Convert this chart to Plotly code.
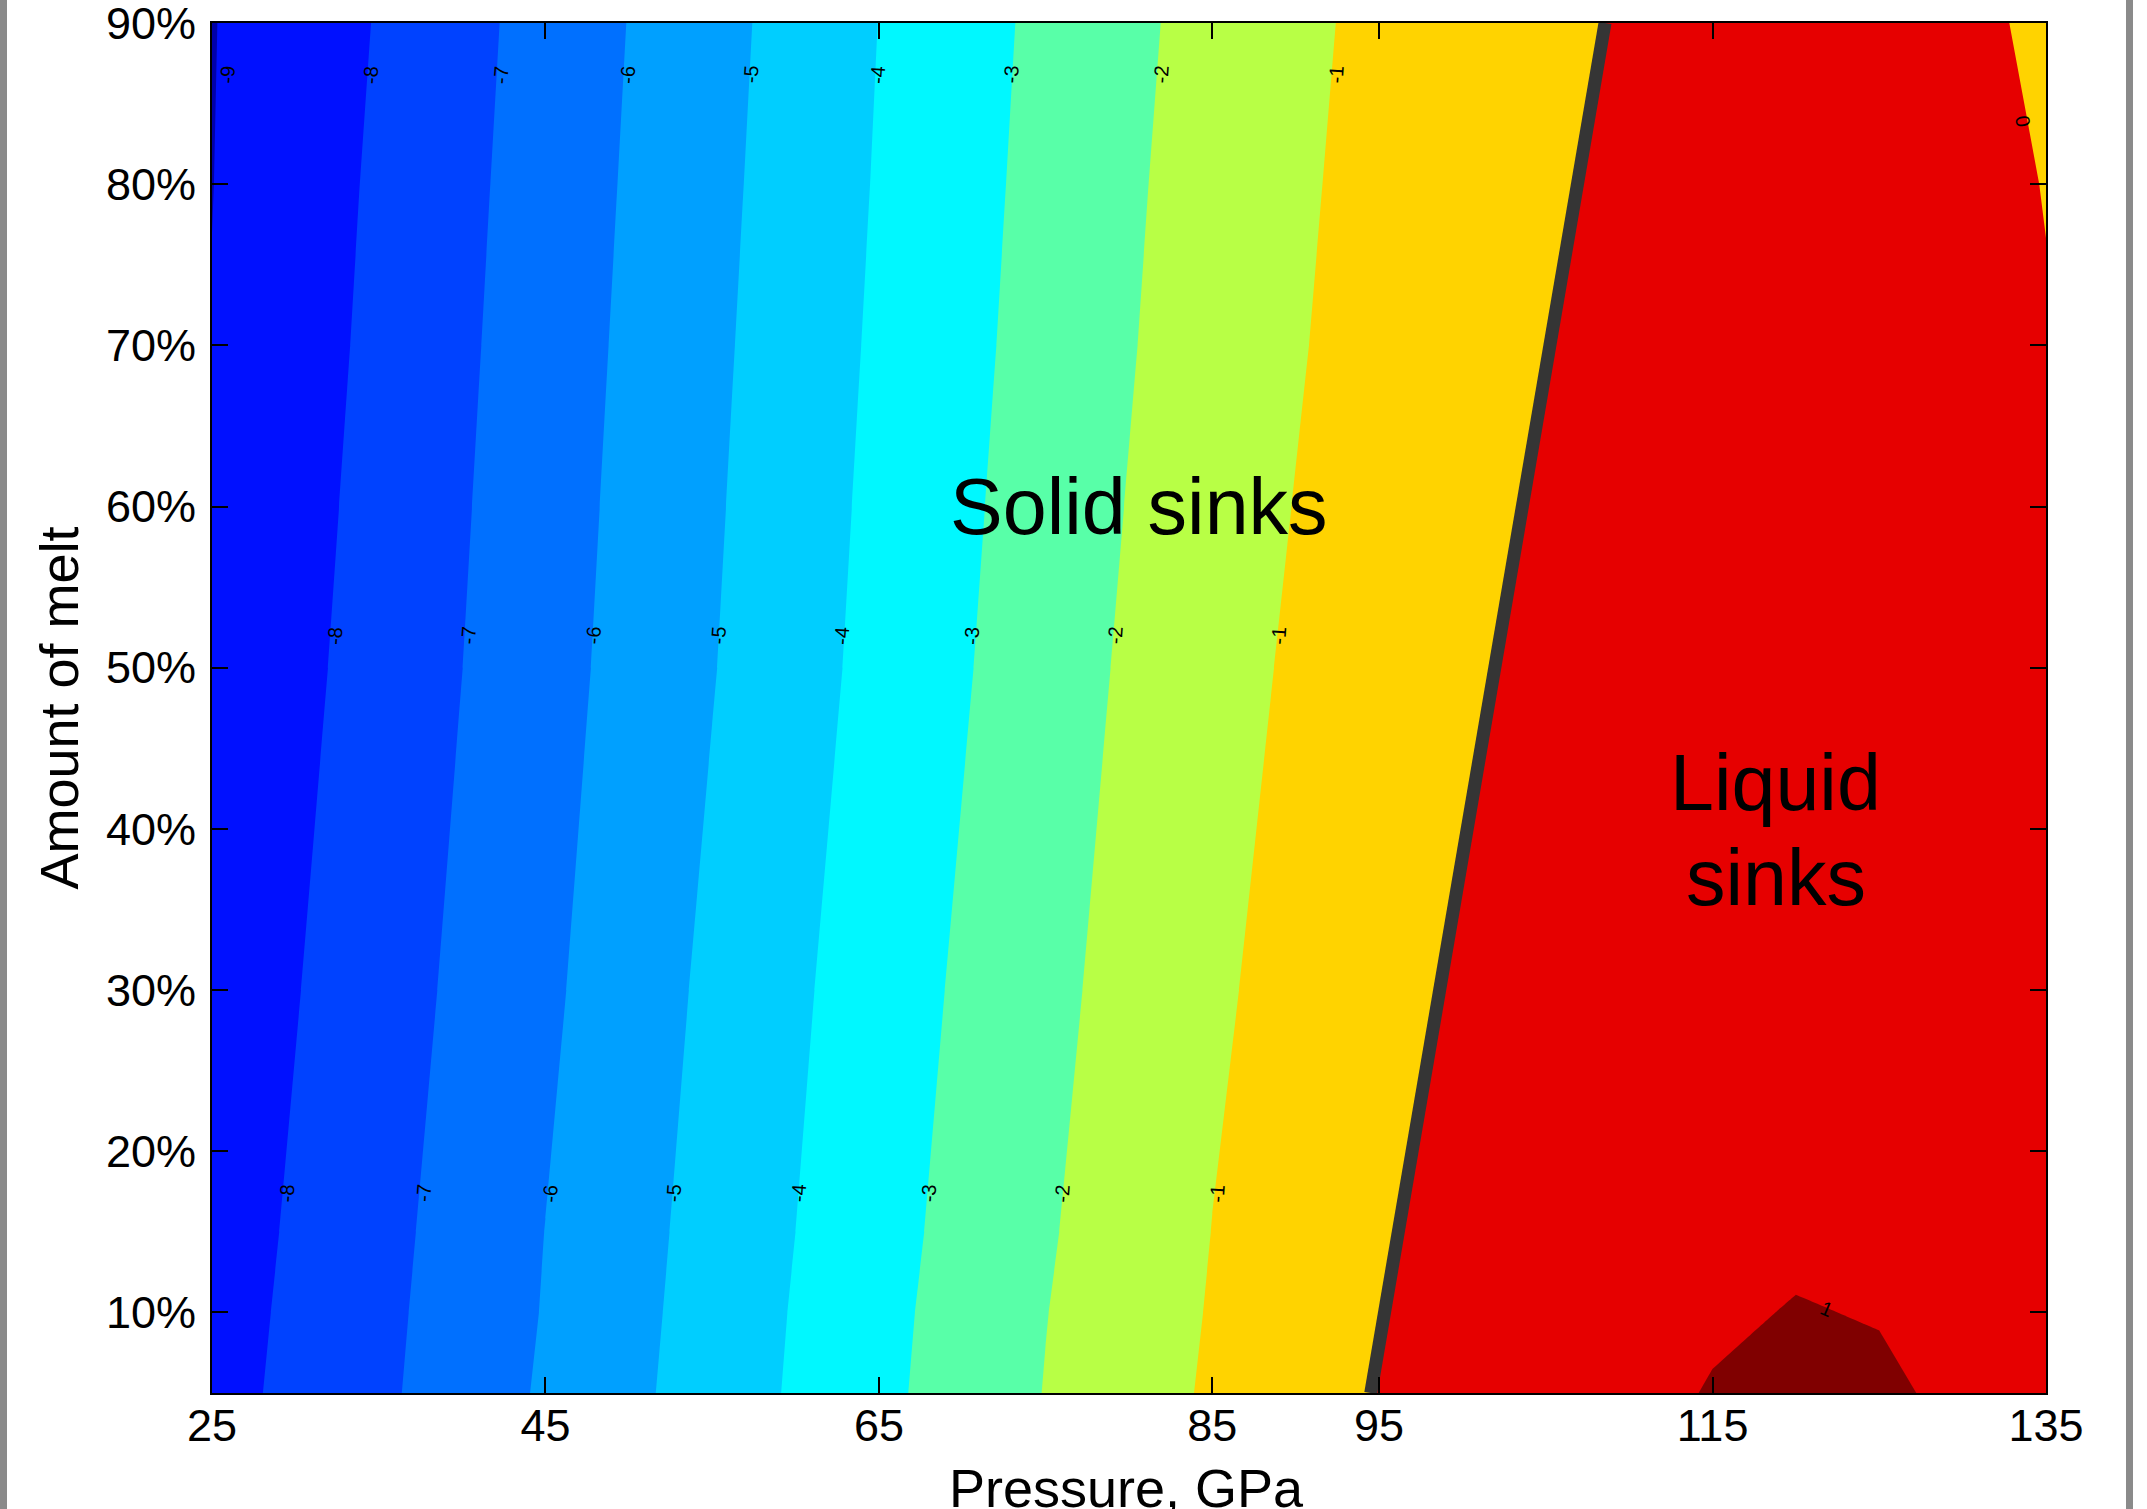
import plotly.graph_objects as go

# ---------------- data ----------------
pressure = [25, 35, 45, 55, 65, 75, 85, 95, 100, 105, 110, 115, 120, 125, 130, 135]
melt = [5, 10, 15, 30, 50, 70, 80, 90]

z_melt_5 = [-8.36, -7.18, -5.88, -4.55, -3.22, -1.97, -0.88, 0.04, 0.35, 0.62, 0.85, 1.03, 1.15, 1.08, 0.90, 0.70]
z_melt_10 = [-8.42, -7.23, -5.95, -4.60, -3.27, -2.02, -0.94, -0.03, 0.30, 0.58, 0.80, 0.93, 1.023, 0.977, 0.85, 0.65]
z_melt_15 = [-8.48, -7.29, -5.99, -4.66, -3.34, -2.09, -0.99, -0.10, 0.35, 0.55, 0.74, 0.86, 0.918, 0.90, 0.80, 0.60]
z_melt_30 = [-8.63, -7.45, -6.17, -4.81, -3.49, -2.25, -1.12, -0.37, 0.14, 0.40, 0.60, 0.72, 0.78, 0.78, 0.70, 0.50]
z_melt_50 = [-8.80, -7.65, -6.36, -5.04, -3.71, -2.46, -1.28, -0.523, -0.14, 0.22, 0.42, 0.55, 0.60, 0.58, 0.48, 0.30]
z_melt_70 = [-8.97, -7.80, -6.50, -5.18, -3.86, -2.64, -1.48, -0.652, -0.30, -0.01, 0.25, 0.38, 0.42, 0.38, 0.25, 0.03]
z_melt_80 = [-9.013, -7.87, -6.57, -5.25, -3.93, -2.71, -1.56, -0.712, -0.40, -0.12, 0.19, 0.30, 0.34, 0.30, 0.17, -0.015]
z_melt_90 = [-9.035, -7.95, -6.64, -5.32, -3.99, -2.78, -1.65, -0.772, -0.49, -0.22, 0.09, 0.20, 0.24, 0.20, 0.07, -0.055]

# solid/liquid crossover line (thick dark line)
crossover_pressure = [94.5, 108.55]
crossover_melt = [5, 90]

# contour level labels
label_top_text = ["-9", "-8", "-7", "-6", "-5", "-4", "-3", "-2", "-1"]
label_top_pressure = [25.9, 34.5, 42.3, 49.9, 57.3, 64.9, 72.9, 81.9, 92.4]
label_top_melt = 86.8
label_mid_text = ["-8", "-7", "-6", "-5", "-4", "-3", "-2", "-1"]
label_mid_pressure = [32.4, 40.4, 47.9, 55.4, 62.8, 70.6, 79.2, 89.0]
label_mid_melt = 52.0
label_bot_text = ["-8", "-7", "-6", "-5", "-4", "-3", "-2", "-1"]
label_bot_pressure = [29.5, 37.7, 45.3, 52.7, 60.2, 68.0, 76.0, 85.3]
label_bot_melt = 17.4
label_extra_text = ["0", "1"]
label_extra_pressure = [133.6, 121.85]
label_extra_melt = [83.9, 10.2]

x_ticks = [25, 45, 65, 85, 95, 115, 135]
y_ticks = [10, 20, 30, 40, 50, 60, 70, 80, 90]
y_ticktext = [f"{v}%" for v in y_ticks]

band_colors = ["#0000AA", "#0010FF", "#0042FF", "#0070FF", "#00A0FF", "#00CEFF",
               "#00F8FF", "#58FFA8", "#B8FF45", "#FFD300", "#E60000", "#800000"]

# ---------------- figure ----------------
W, H = 2147, 1509
ML, MR, MT, MB = 212, 101, 23, 116
PW, PH = W - ML - MR, H - MT - MB
FONT = "Liberation Sans, Arial, sans-serif"

fig = go.Figure()

fig.add_trace(go.Contour(
    x=pressure, y=melt,
    z=[z_melt_5, z_melt_10, z_melt_15, z_melt_30, z_melt_50, z_melt_70, z_melt_80, z_melt_90],
    contours=dict(start=-9, end=1, size=1, coloring="fill", showlines=False),
    colorscale=[[i / (len(band_colors) - 1), c] for i, c in enumerate(band_colors)],
    line=dict(width=0, smoothing=0),
    showscale=False,
    hoverinfo="skip",
))

fig.add_trace(go.Scatter(
    x=crossover_pressure, y=crossover_melt, mode="lines",
    line=dict(color="#353535", width=13),
    hoverinfo="skip", showlegend=False,
))

label_font = dict(family=FONT, size=20, color="black")
annotations = []
for texts, ps, m in [(label_top_text, label_top_pressure, label_top_melt),
                     (label_mid_text, label_mid_pressure, label_mid_melt),
                     (label_bot_text, label_bot_pressure, label_bot_melt)]:
    for t, p in zip(texts, ps):
        annotations.append(dict(x=p, y=m, text=t, showarrow=False, textangle=-86,
                                font=label_font, xanchor="center", yanchor="middle"))
for t, p, m, a in zip(label_extra_text, label_extra_pressure, label_extra_melt, [80, 23]):
    annotations.append(dict(x=p, y=m, text=t, showarrow=False, textangle=a,
                            font=label_font, xanchor="center", yanchor="middle"))

big_font = dict(family=FONT, size=79, color="black")
annotations.append(dict(x=80.6, y=60.0, text="Solid sinks", showarrow=False, font=big_font,
                        xanchor="center", yanchor="middle"))
annotations.append(dict(x=118.8, y=42.9, text="Liquid", showarrow=False, font=big_font,
                        xanchor="center", yanchor="middle"))
annotations.append(dict(x=118.8, y=37.0, text="sinks", showarrow=False, font=big_font,
                        xanchor="center", yanchor="middle"))

# x-axis title (sits lower than plotly's margin-constrained axis title allows)
annotations.append(dict(xref="paper", yref="paper", x=0.4985, y=(MB - 95.5) / PH - MB / PH,
                        text="Pressure, GPa", showarrow=False,
                        font=dict(family=FONT, size=54, color="black"),
                        xanchor="center", yanchor="middle"))

# window frame edges seen in the screenshot
shapes = []
for x0, x1 in [(0, 7), (2126, 2133)]:
    shapes.append(dict(type="rect", xref="paper", yref="paper",
                       x0=(x0 - ML) / PW, x1=(x1 - ML) / PW,
                       y0=-0.2, y1=1.2, fillcolor="#8a8a8a", line=dict(width=0), layer="above"))

axis_common = dict(showgrid=False, zeroline=False, ticks="inside", ticklen=16, tickwidth=2,
                   tickcolor="black", showline=True, linecolor="black", linewidth=2,
                   mirror="ticks", automargin=False, ticklabeloverflow="allow",
                   tickfont=dict(family=FONT, size=45, color="black"))

fig.update_layout(
    width=W, height=H,
    margin=dict(l=ML, r=MR, t=MT, b=MB, pad=0),
    paper_bgcolor="white", plot_bgcolor="white",
    showlegend=False,
    font=dict(family=FONT, color="black"),
    xaxis=dict(range=[25, 135], tickmode="array", tickvals=x_ticks,
               ticktext=[str(v) for v in x_ticks], ticklabelstandoff=-8,
               **axis_common),
    yaxis=dict(range=[5, 90], tickmode="array", tickvals=y_ticks, ticktext=y_ticktext,
               ticklabelstandoff=5,
               title=dict(text="Amount of melt", standoff=10,
                          font=dict(family=FONT, size=54, color="black")),
               **axis_common),
    annotations=annotations,
    shapes=shapes,
)

fig.write_html("out.html")
